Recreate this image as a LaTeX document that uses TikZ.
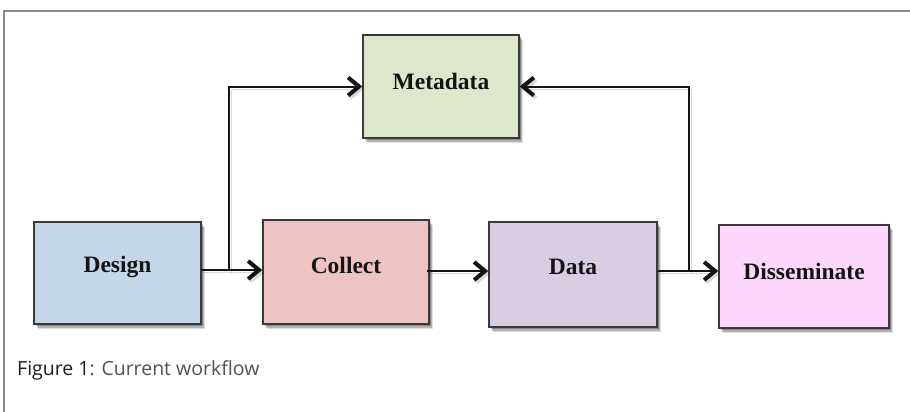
\documentclass[tikz,border=0pt]{standalone}
\usepackage{fontspec}
\setmainfont{Liberation Serif}
\newfontfamily\capfont{Open Sans}
\usetikzlibrary{arrows.meta,shadows,calc}

\definecolor{frameGray}{HTML}{8A8A8A}
\definecolor{boxEdge}{HTML}{3A3A3A}
\definecolor{designFill}{HTML}{C4D6E8}
\definecolor{collectFill}{HTML}{EDC4C3}
\definecolor{dataFill}{HTML}{D8CDE1}
\definecolor{dissFill}{HTML}{FDD6FD}
\definecolor{metaFill}{HTML}{DDE7CB}

\tikzset{
  stagebox/.style={draw=boxEdge, line width=1.5pt, rectangle, inner sep=0pt,
    drop shadow={shadow xshift=4pt, shadow yshift=-5pt, opacity=0.12, fill=black},
    drop shadow={shadow xshift=3pt, shadow yshift=-3.5pt, opacity=0.2, fill=black},
    drop shadow={shadow xshift=2pt, shadow yshift=-2pt, opacity=0.25, fill=black}},
  stagelabel/.style={font=\fontsize{23.5}{26}\selectfont\bfseries, text=black!92},
  barb/.tip={Straight Barb[length=11pt,width=18pt,line width=4pt]},
  flow/.style={line width=2pt, draw=black!92, -barb,
    preaction={draw=black, opacity=0.15, transform canvas={shift={(2pt,-2.5pt)}}}},
}

\begin{document}
\begin{tikzpicture}[x=1pt,y=-1pt]
  \useasboundingbox (0,0) rectangle (910,412);
  % frame (top and left rules)
  \draw[frameGray, line width=1.8pt] (910,11) -- (4,11) -- (4,412);

  % stage boxes
  \node[stagebox, fill=designFill, minimum width=167pt, minimum height=102pt] (design) at (117.5,273) {};
  \node[stagebox, fill=collectFill, minimum width=166pt, minimum height=104pt] (collect) at (346,272) {};
  \node[stagebox, fill=dataFill, minimum width=168pt, minimum height=105pt] (data) at (573,274.5) {};
  \node[stagebox, fill=dissFill, minimum width=170pt, minimum height=103pt] (diss) at (804,276.5) {};
  \node[stagebox, fill=metaFill, minimum width=156pt, minimum height=103pt] (meta) at (441,86.5) {};

  % stage labels
  \node[stagelabel] (designT) at (117.5,267) {Design};
  \node[stagelabel] (collectT) at (346,265) {Collect};
  \node[stagelabel] (dataT) at (573,267) {Data};
  \node[stagelabel] (dissT) at (804,271) {Disseminate};
  \node[stagelabel] (metaT) at (441,81) {Metadata};

  % junctions where the branches to Metadata leave the main flow
  \coordinate (j1) at (229,270);
  \coordinate (j2) at (689,271);

  % main flow
  \draw[flow] (201,270) -- (collect.west |- j1);
  \draw[flow] (427,271) -- (data.west |- 0,271);
  \draw[flow] (data.east |- j2) -- (diss.west |- j2);

  % branches to Metadata
  \draw[flow] (j1) |- (meta.west);
  \draw[flow] (j2) |- (meta.east);

  % caption
  \node[anchor=west, inner sep=0pt, font=\capfont\fontsize{19.5}{22}\selectfont] (cap) at (17,370)
    {\textcolor{black!88}{Figure 1}\textcolor{black!68}{: Current workflow}};
\end{tikzpicture}
\end{document}
